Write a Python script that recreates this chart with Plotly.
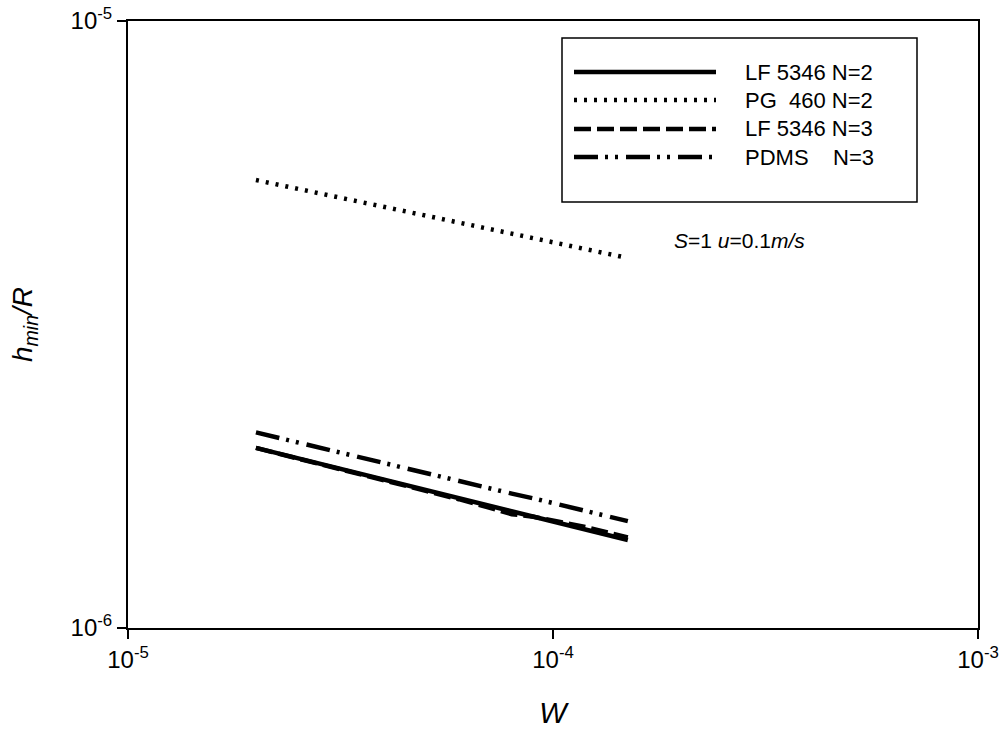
import plotly.graph_objects as go

# Dimensionless load W (shared by all four curves)
w_values = [2e-5, 3e-5, 4e-5, 5e-5, 6e-5, 7e-5, 8e-5, 9e-5, 1e-4, 1.2e-4, 1.5e-4]

# Minimum film thickness h_min/R for each lubricant / N
lf5346_n2 = [1.98e-6, 1.846e-6, 1.756e-6, 1.689e-6, 1.636e-6, 1.593e-6, 1.557e-6, 1.526e-6, 1.497e-6, 1.451e-6, 1.396e-6]
pg460_n2 = [5.47e-6, 5.15e-6, 4.94e-6, 4.78e-6, 4.655e-6, 4.55e-6, 4.46e-6, 4.38e-6, 4.32e-6, 4.20e-6, 4.07e-6]
lf5346_n3 = [1.98e-6, 1.845e-6, 1.755e-6, 1.685e-6, 1.630e-6, 1.582e-6, 1.540e-6, 1.525e-6, 1.505e-6, 1.465e-6, 1.410e-6]
pdms_n3 = [2.10e-6, 1.96e-6, 1.87e-6, 1.80e-6, 1.745e-6, 1.70e-6, 1.665e-6, 1.635e-6, 1.605e-6, 1.56e-6, 1.50e-6]

series_names = ["LF 5346 N=2", "PG  460 N=2", "LF 5346 N=3", "PDMS    N=3"]
series_values = [lf5346_n2, pg460_n2, lf5346_n3, pdms_n3]
series_dash = ["solid", "3px,7px", "17px,6px", "24px,7px,3px,7px,3px,8px"]

x_tick_vals = [1e-5, 1e-4, 1e-3]
x_tick_text = ["10<sup>-5</sup>", "10<sup>-4</sup>", "10<sup>-3</sup>"]
y_tick_vals = [1e-6, 1e-5]
y_tick_text = ["10<sup>-6</sup>", "10<sup>-5</sup>"]

FONT = "Liberation Sans, Arial, sans-serif"

fig = go.Figure()
for name, vals, dash in zip(series_names, series_values, series_dash):
    fig.add_trace(go.Scatter(
        x=w_values, y=vals, mode="lines", name=name,
        line=dict(color="black", width=4.5, dash=dash),
        showlegend=False,
    ))

# Hand-drawn legend box with long line samples
L = 128.0
T = 21.0
PW = 850.0
PH = 607.0


def px_x(p):
    return (p - L) / PW


def px_y(p):
    return (T + PH - p) / PH


shapes = [dict(type="rect", xref="paper", yref="paper",
               x0=px_x(562), x1=px_x(917), y0=px_y(202), y1=px_y(38),
               line=dict(color="black", width=1.5), fillcolor="white", layer="above")]
annotations = []
row_y = [72, 100, 129, 157]
for name, dash, ry in zip(series_names, series_dash, row_y):
    shapes.append(dict(type="line", xref="paper", yref="paper",
                       x0=px_x(574), x1=px_x(716), y0=px_y(ry), y1=px_y(ry),
                       line=dict(color="black", width=4.5, dash=dash), layer="above"))
    annotations.append(dict(xref="paper", yref="paper", x=px_x(743), y=px_y(ry),
                            xanchor="left", yanchor="middle", showarrow=False,
                            text=name.replace("  ", "&nbsp;&nbsp;"),
                            font=dict(family=FONT, size=22, color="black")))

annotations.append(dict(xref="paper", yref="paper", x=px_x(672), y=px_y(240),
                        xanchor="left", yanchor="middle", showarrow=False,
                        text="<i>S</i>=1 <i>u</i>=0.1<i>m/s</i>",
                        font=dict(family=FONT, size=21, color="black")))

axis_common = dict(
    type="log", showgrid=False, zeroline=False, automargin=False,
    showline=True, linecolor="black", linewidth=2, mirror=True,
    ticks="outside", ticklen=9, tickwidth=1.5, tickcolor="black",
    tickfont=dict(family=FONT, size=24, color="black"),
)

fig.update_layout(
    width=1003, height=729,
    margin=dict(l=128, r=25, t=21, b=101),
    paper_bgcolor="white", plot_bgcolor="white",
    shapes=shapes, annotations=annotations,
    xaxis=dict(axis_common, range=[-5, -3], tickvals=x_tick_vals, ticktext=x_tick_text,
               title=dict(text="<i>W</i>", font=dict(family=FONT, size=29, color="black"), standoff=32)),
    yaxis=dict(axis_common, range=[-6, -5], tickvals=y_tick_vals, ticktext=y_tick_text,
               title=dict(text="<i>h</i><sub><i>min</i></sub><i>/R</i>",
                          font=dict(family=FONT, size=28, color="black"), standoff=30)),
)

fig.write_html("out.html")
